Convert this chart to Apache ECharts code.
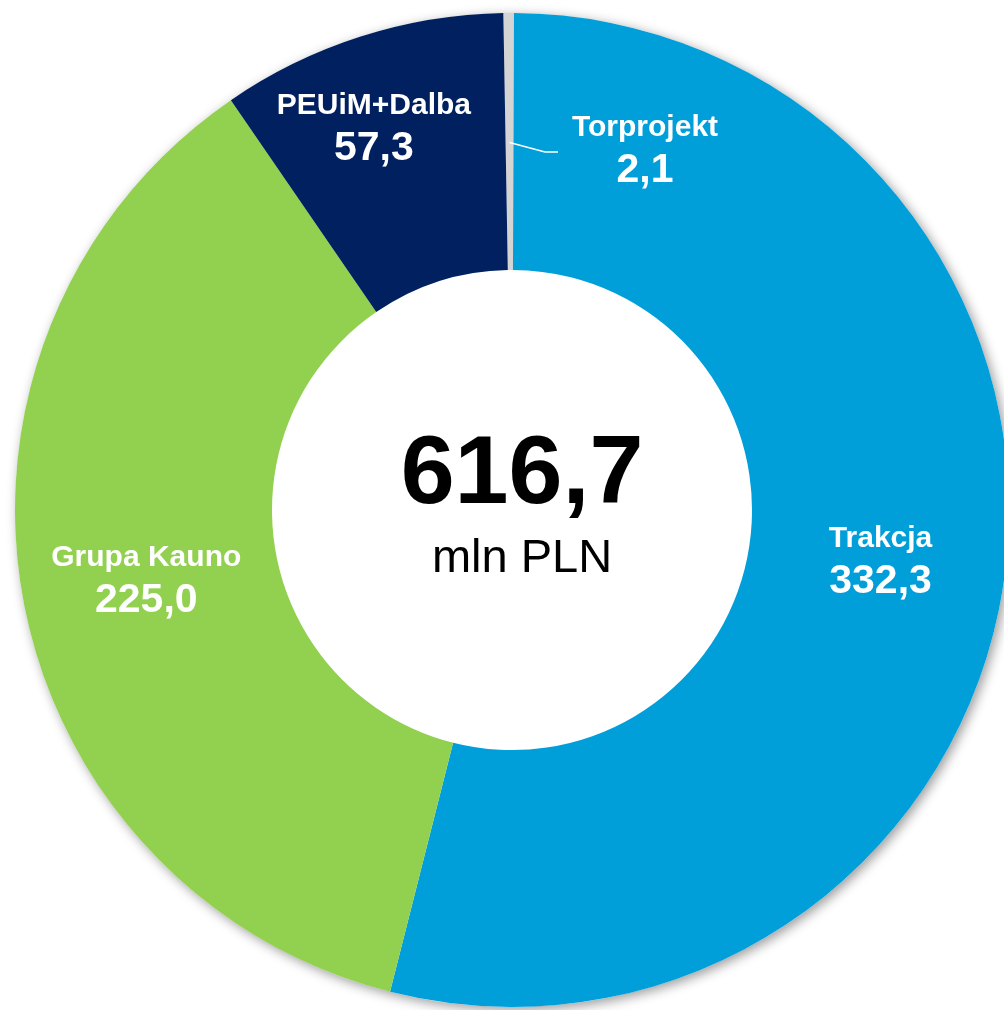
<!DOCTYPE html>
<html>
<head>
<meta charset="utf-8">
<style>
  html, body { margin: 0; padding: 0; background: #ffffff; }
  #chart { width: 1004px; height: 1010px; }
</style>
<script src="https://cdn.jsdelivr.net/npm/echarts@6/dist/echarts.min.js"></script>
</head>
<body>
<div id="chart"></div>
<script>
// ---- data ----
const categories = ['Torprojekt', 'Trakcja', 'Grupa Kauno', 'PEUiM+Dalba'];
const values = [2.1, 332.3, 225.0, 57.3];
const colors = ['#d4d4d4', '#009fda', '#92d050', '#002060'];
const unitLabel = 'mln PLN';

// ---- layout ----
const CX = 512, CY = 510, R0 = 240, R1 = 497, START = 91;
const FONT = '"Liberation Sans", Arial, sans-serif';
const TOR_LABEL = [CX + 133, 146];

const total = values.reduce((a, b) => a + b, 0);
const fmt = v => v.toFixed(1).replace('.', ',');

function midPoint(idx, r) {
  let before = 0;
  for (let k = 0; k < idx; k++) before += values[k];
  const ang = (START - (before + values[idx] / 2) / total * 360) * Math.PI / 180;
  return [CX + r * Math.cos(ang), CY - r * Math.sin(ang)];
}

const chart = echarts.init(document.getElementById('chart'));

const data = categories.map((name, i) => ({
  name: name,
  value: values[i],
  itemStyle: { color: colors[i] }
}));

const torStart = midPoint(0, (R0 + R1) / 2);
const lineEndX = TOR_LABEL[0] - 87;
const lineY = TOR_LABEL[1] + 6;

chart.setOption({
  animation: false,
  backgroundColor: '#ffffff',
  series: [
    {
      type: 'pie',
      silent: true,
      center: [CX, CY],
      radius: [0, R1],
      label: { show: false },
      labelLine: { show: false },
      itemStyle: {
        color: '#ffffff',
        shadowBlur: 12,
        shadowColor: 'rgba(0,0,0,0.4)',
        shadowOffsetX: 3,
        shadowOffsetY: 3
      },
      data: [{ name: 'total', value: total }]
    },
    {
      type: 'pie',
      silent: true,
      center: [CX, CY],
      radius: [R0, R1],
      startAngle: START,
      clockwise: true,
      avoidLabelOverlap: false,
      itemStyle: { borderWidth: 0 },
      label: {
        show: true,
        position: 'inside',
        color: '#ffffff',
        fontFamily: FONT,
        formatter: p => '{n|' + p.name + '}\n{v|' + fmt(p.value) + '}',
        rich: {
          n: { fontSize: 30, fontWeight: 'bold', color: '#ffffff', fontFamily: FONT, lineHeight: 50, align: 'center' },
          v: { fontSize: 41, fontWeight: 'bold', color: '#ffffff', fontFamily: FONT, lineHeight: 36, align: 'center' }
        }
      },
      labelLine: { show: false },
      labelLayout: function (params) {
        if (params.dataIndex === 0) {
          return { x: TOR_LABEL[0], y: TOR_LABEL[1], align: 'center', verticalAlign: 'middle' };
        }
        if (params.dataIndex === 3) {
          return { dx: -25, dy: -32 };
        }
        return {};
      },
      data: data
    }
  ],
  graphic: [
    {
      type: 'polyline',
      silent: true,
      z: 100,
      shape: { points: [[torStart[0], torStart[1] + 1], [lineEndX - 13, lineY], [lineEndX, lineY]] },
      style: { stroke: '#ffffff', lineWidth: 1.5, fill: null }
    },
    {
      type: 'text',
      silent: true,
      z: 100,
      style: {
        x: CX + 10, y: 476,
        text: fmt(total),
        fontFamily: FONT, fontSize: 97, fontWeight: 'bold',
        fill: '#000000', textAlign: 'center', textVerticalAlign: 'middle'
      }
    },
    {
      type: 'text',
      silent: true,
      z: 100,
      style: {
        x: CX + 10, y: 559,
        text: unitLabel,
        fontFamily: FONT, fontSize: 47,
        fill: '#000000', textAlign: 'center', textVerticalAlign: 'middle'
      }
    }
  ]
});
</script>
</body>
</html>
